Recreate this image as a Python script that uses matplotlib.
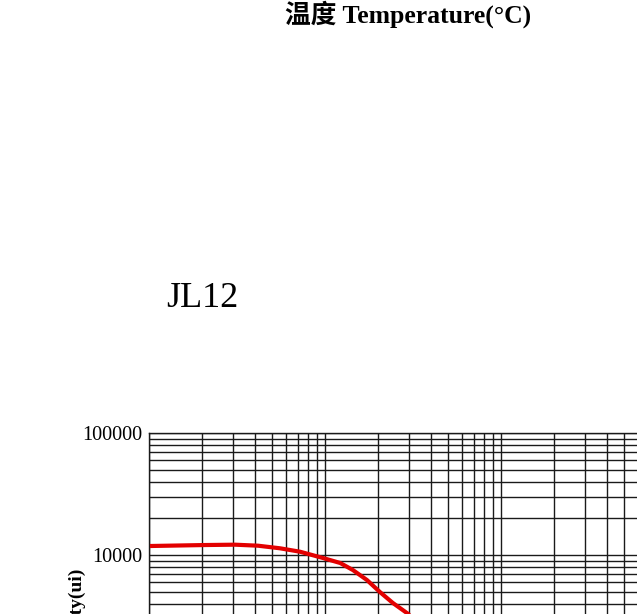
import matplotlib.pyplot as plt
from matplotlib.ticker import LogLocator, NullFormatter, FixedLocator, FixedFormatter

# JL12 permeability vs frequency (frequency in kHz)
freq = [1.013, 2.08, 3.08, 4.16, 5.55, 7.21, 9.74, 12.2, 14.4, 17.3, 20.5, 24.3, 29.2, 34.7]
mu = [11850, 12070, 12150, 11920, 11350, 10640, 9450, 8600, 7530, 6240, 4975, 4043, 3346, 2772]

y_ticks = [10000, 100000]
y_tick_labels = ['10000', '100000']

W, H = 637, 614
fig = plt.figure(figsize=(W / 100, H / 100), dpi=100)

# axes runs off the bottom/right of the picture (it is a cropped page)
left_px, top_px = 149, 433
dec_x, dec_y = 176, 122
ax = fig.add_axes([left_px / W, 1 - (top_px + 4 * dec_y) / H, 3 * dec_x / W, 4 * dec_y / H])
ax.set_xscale('log')
ax.set_yscale('log')
ax.set_xlim(1, 1000)
ax.set_ylim(10, 100000)

ax.xaxis.set_major_locator(LogLocator(base=10))
ax.xaxis.set_minor_locator(LogLocator(base=10, subs=range(2, 10)))
ax.yaxis.set_minor_locator(LogLocator(base=10, subs=range(2, 10)))
ax.yaxis.set_major_locator(FixedLocator(y_ticks))
ax.yaxis.set_major_formatter(FixedFormatter(y_tick_labels))
ax.yaxis.set_minor_formatter(NullFormatter())
ax.tick_params(axis='both', which='both', length=0)
ax.tick_params(axis='x', labelbottom=False)
ax.tick_params(axis='y', pad=4.5, labelsize=14.5)
for lab in ax.get_yticklabels():
    lab.set_family('Liberation Serif')
ax.grid(True, which='both', color='#1a1a1a', linewidth=1.0)
for sp in ax.spines.values():
    sp.set_color('#1a1a1a')
    sp.set_linewidth(1.0)

ax.plot(freq, mu, color='#e30000', linewidth=3.0, solid_capstyle='butt',
        solid_joinstyle='round', zorder=5)

# caption of the chart above (cut off at the top of the crop)
fig.text(285 / W, 1 - 23 / H, '温度 Temperature(°C)', ha='left', va='baseline',
         fontsize=18.5, fontweight='bold', family=['Liberation Serif', 'Noto Sans CJK SC'])

fig.text(166 / W, 1 - 307 / H, 'JL12', ha='left', va='baseline', fontsize=26,
         family='Liberation Serif')

fig.text(77 / W, 1 - 568 / H, 'Permeability(ui)', rotation=90, ha='center', va='top',
         fontsize=14, fontweight='bold', family='Liberation Serif')

fig.savefig('out.png', dpi=100)
